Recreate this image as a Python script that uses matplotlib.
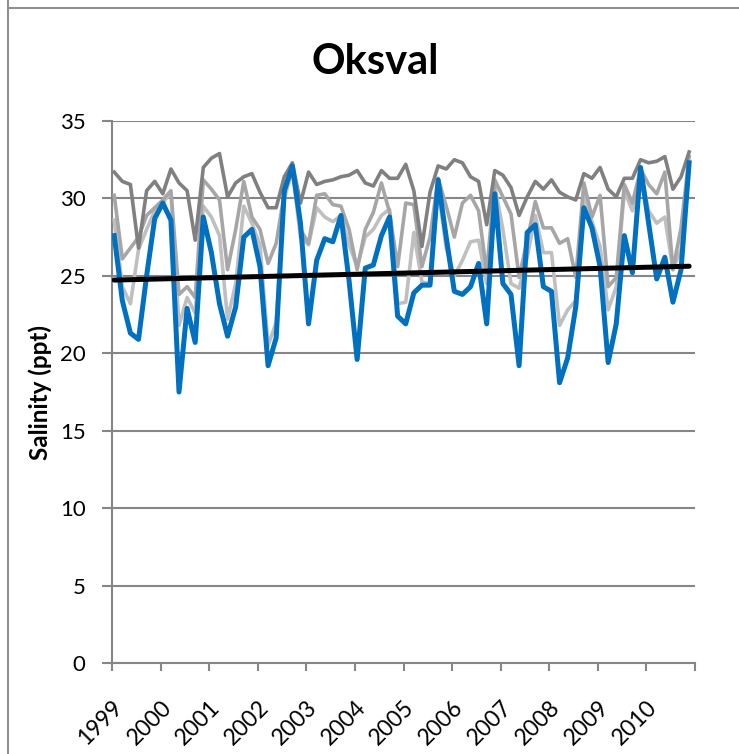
import numpy as np
import matplotlib
matplotlib.use("Agg")
import matplotlib.pyplot as plt
from matplotlib.lines import Line2D

plt.rcParams['font.family'] = ['Lato', 'DejaVu Sans']

years = list(range(1999, 2011))

# bimonthly samples, Jan 1999 - Nov 2010
surface = [27.6, 23.4, 21.3, 20.9, 25.0, 28.7, 29.7, 28.6, 17.5, 22.9, 20.7, 28.8,
           26.5, 23.2, 21.1, 23.0, 27.5, 28.0, 25.6, 19.2, 21.0, 30.5, 32.1, 28.4,
           21.9, 26.0, 27.4, 27.2, 28.9, 24.7, 19.6, 25.5, 25.7, 27.6, 28.8, 22.4,
           21.9, 23.9, 24.4, 24.4, 31.2, 27.5, 24.0, 23.8, 24.3, 25.8, 21.9, 30.3,
           24.5, 23.8, 19.2, 27.8, 28.3, 24.3, 24.0, 18.1, 19.7, 23.0, 29.4, 28.1,
           25.6, 19.4, 21.9, 27.6, 25.2, 32.0, 28.4, 24.8, 26.2, 23.3, 25.4, 32.3]

deep = [31.7, 31.1, 30.9, 26.8, 30.5, 31.1, 30.3, 31.9, 31.0, 30.5, 27.3, 32.0,
        32.6, 32.9, 30.1, 31.0, 31.4, 31.6, 30.4, 29.4, 29.4, 31.4, 32.3, 29.7,
        31.7, 30.9, 31.1, 31.2, 31.4, 31.5, 31.8, 31.0, 30.8, 31.8, 31.3, 31.3,
        32.2, 30.5, 26.9, 30.4, 32.1, 31.9, 32.5, 32.3, 31.4, 31.1, 28.3, 31.8,
        31.5, 30.7, 28.9, 30.1, 31.1, 30.6, 31.2, 30.4, 30.1, 29.9, 31.6, 31.3,
        32.0, 30.6, 30.1, 31.3, 31.3, 32.5, 32.3, 32.4, 32.7, 30.6, 31.4, 33.0]

mid = [30.2, 26.1, 26.8, 27.5, 28.9, 29.4, 29.9, 30.5, 23.8, 24.3, 23.6, 31.2,
       30.6, 29.9, 25.4, 28.0, 31.1, 28.8, 28.0, 25.8, 27.1, 30.3, 32.0, 28.0,
       27.1, 30.2, 30.3, 29.6, 29.5, 28.0, 25.4, 28.0, 29.1, 31.0, 29.1, 25.6,
       29.7, 29.6, 25.6, 27.5, 31.3, 29.5, 27.5, 29.7, 30.2, 29.2, 25.2, 31.2,
       30.1, 29.0, 24.9, 27.3, 29.8, 28.1, 28.1, 27.1, 27.4, 24.9, 31.0, 28.8,
       30.2, 24.3, 24.9, 30.9, 29.7, 31.9, 30.9, 30.3, 31.7, 25.4, 28.1, 32.7]

shallow = [28.6, 24.3, 23.2, 26.7, 28.0, 29.2, 29.7, 30.4, 21.8, 23.6, 22.6, 29.5,
           28.8, 27.6, 22.2, 24.5, 29.5, 28.4, 27.0, 20.5, 22.0, 30.0, 31.8, 27.5,
           27.0, 29.4, 28.8, 28.5, 28.9, 27.0, 25.6, 27.5, 28.0, 28.9, 29.3, 23.2,
           23.3, 27.8, 24.6, 24.5, 30.6, 26.8, 25.0, 26.0, 27.2, 27.3, 24.5, 30.8,
           28.0, 24.5, 24.2, 26.2, 28.9, 26.5, 26.5, 21.8, 22.8, 23.4, 30.3, 28.5,
           26.9, 22.8, 24.3, 30.5, 29.2, 31.7, 29.2, 28.4, 28.8, 25.4, 26.7, 32.3]

t = 1999 + (np.arange(len(surface)) * 2 + 0.55) / 12

fig = plt.figure(figsize=(7.39, 7.54), dpi=100)
W, H = 739, 754
ax = fig.add_axes([112 / W, 1 - 663 / H, (695 - 112) / W, (663 - 121) / H])

axis_grey = '#868686'

ax.plot(t, shallow, color='#BFBFBF', lw=2.6, solid_joinstyle='round', zorder=3)
ax.plot(t, mid, color='#A6A6A6', lw=2.6, solid_joinstyle='round', zorder=3)
ax.plot(t, deep, color='#808080', lw=2.6, solid_joinstyle='round', zorder=3)
ax.plot(t, surface, color='#0070C0', lw=3.6, solid_joinstyle='round', zorder=4)

# linear trend of the surface series
slope, icept = np.polyfit(t, surface, 1)
tt = np.array([t[0], t[-1]])
ax.plot(tt, slope * tt + icept, color='black', lw=3.6, solid_capstyle='round', zorder=5)

ax.set_xlim(1999, 2011)
ax.set_ylim(0, 35)
ax.set_yticks(range(0, 36, 5))
ax.yaxis.grid(True, color=axis_grey, lw=1.5)
ax.set_axisbelow(True)

ax.set_xticks(range(1999, 2012))
ax.set_xticklabels([str(y) for y in years] + [''], rotation=45,
                   ha='right', va='top', rotation_mode='anchor', fontsize=16.5)
ax.tick_params(axis='x', length=6, width=1.5, color=axis_grey, direction='out', pad=18)
ax.tick_params(axis='y', length=7, width=1.5, color=axis_grey, direction='out',
               labelsize=16, pad=12)

for s in ['top', 'right']:
    ax.spines[s].set_visible(False)
for s in ['left', 'bottom']:
    ax.spines[s].set_color(axis_grey)
    ax.spines[s].set_linewidth(1.5)

ax.set_ylabel('Salinity (ppt)', fontsize=17.5, fontweight='bold', labelpad=6)
fig.text(375 / W, 1 - 62 / H, 'Oksval', fontsize=30, fontweight='bold',
         ha='center', va='center')

# chart frame
fig.add_artist(Line2D([8 / W, 8 / W], [0, 1], color='#909090', lw=1.5))
fig.add_artist(Line2D([8 / W, 1], [1 - 8 / H, 1 - 8 / H], color='#909090', lw=1.5))

fig.savefig('out.png', dpi=100)
